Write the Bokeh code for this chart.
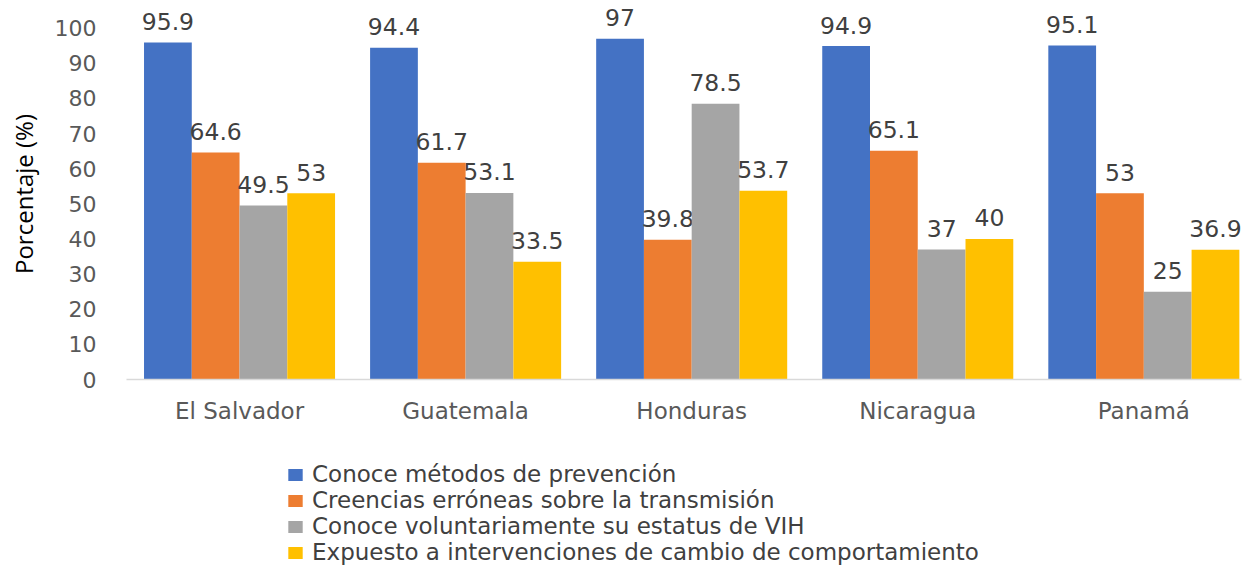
import numpy as np
from bokeh.plotting import figure
from bokeh.layouts import column
from bokeh.models import Range1d, FixedTicker, Legend, LegendItem, ColumnDataSource
from bokeh.core.properties import value
from bokeh.embed import file_html
from bokeh.resources import INLINE

countries = ["El Salvador", "Guatemala", "Honduras", "Nicaragua", "Panamá"]
series_names = [
    "Conoce métodos de prevención",
    "Creencias erróneas sobre la transmisión",
    "Conoce voluntariamente su estatus de VIH",
    "Expuesto a intervenciones de cambio de comportamiento",
]
conoce_metodos = [95.9, 94.4, 97, 94.9, 95.1]
creencias_erroneas = [64.6, 61.7, 39.8, 65.1, 53]
conoce_estatus = [49.5, 53.1, 78.5, 37, 25]
expuesto = [53, 33.5, 53.7, 40, 36.9]
colors = ["#4472C4", "#ED7D31", "#A5A5A5", "#FFC000"]
y_ticks = [0, 10, 20, 30, 40, 50, 60, 70, 80, 90, 100]

series = [conoce_metodos, creencias_erroneas, conoce_estatus, expuesto]

p = figure(
    frame_width=1115, frame_height=371,
    min_border_left=126, min_border_right=8, min_border_top=8, min_border_bottom=66,
    x_range=Range1d(-0.5, 4.432), y_range=Range1d(0, 105.6),
    output_backend="svg", toolbar_location=None,
)
p.outline_line_color = None
p.xgrid.grid_line_color = None
p.ygrid.grid_line_color = None
p.background_fill_color = "white"
p.border_fill_color = "white"

group = 0.845
w = group / 4
for k, (vals, col) in enumerate(zip(series, colors)):
    off = (k - 1.5) * w
    xs = [i + off for i in range(len(countries))]
    src = ColumnDataSource(dict(x=xs, top=vals, lab=[f"{v:g}" for v in vals]))
    p.vbar(x="x", top="top", width=w, bottom=0, source=src,
           fill_color=col, line_color=None)
    p.text(x="x", y="top", text="lab", source=src, text_align="center",
           text_baseline="alphabetic", y_offset=-21,
           text_font=value("DejaVu Sans"), text_font_size="23.5px",
           text_color="#404040")

# x axis
xa = p.xaxis[0]
xa.ticker = FixedTicker(ticks=list(range(len(countries))))
xa.major_label_overrides = {i: c for i, c in enumerate(countries)}
xa.axis_line_color = "#D9D9D9"
xa.axis_line_width = 1.5
xa.major_tick_line_color = None
xa.major_tick_out = 0
xa.major_tick_in = 0
xa.minor_tick_line_color = None
xa.major_label_text_font = "DejaVu Sans"
xa.major_label_text_font_size = "23px"
xa.major_label_text_color = "#595959"
xa.major_label_standoff = 18

# y axis
ya = p.yaxis[0]
ya.ticker = FixedTicker(ticks=y_ticks)
ya.axis_line_color = None
ya.major_tick_line_color = None
ya.major_tick_out = 0
ya.major_tick_in = 0
ya.minor_tick_line_color = None
ya.major_label_text_font = "DejaVu Sans"
ya.major_label_text_font_size = "22px"
ya.major_label_text_color = "#595959"
ya.major_label_standoff = 30
ya.axis_label = "Porcentaje (%)"
ya.axis_label_text_font = "Open Sans"
ya.axis_label_text_font_size = "24px"
ya.axis_label_text_font_style = "normal"
ya.axis_label_text_color = "#000000"
ya.axis_label_standoff = 12

# legend figure below the chart
pl = figure(
    frame_width=1249, frame_height=124, min_border=0,
    x_range=Range1d(0, 1), y_range=Range1d(0, 1),
    x_axis_location=None, y_axis_location=None,
    output_backend="svg", toolbar_location=None,
)
pl.outline_line_color = None
pl.grid.visible = False
pl.background_fill_color = "white"
pl.border_fill_color = "white"

items = []
for col, name in zip(colors, series_names):
    proxy = ColumnDataSource(dict(x=np.array([np.nan]), top=np.array([np.nan])))
    r = pl.vbar(x="x", top="top", width=0.1, source=proxy,
                fill_color=col, line_color=None)
    items.append(LegendItem(label=name, renderers=[r]))

legend = Legend(items=items, location=(286, 4), orientation="vertical",
                glyph_width=18, glyph_height=15, label_height=20,
                spacing=0, label_standoff=8, padding=0, margin=0,
                border_line_color=None, background_fill_alpha=0,
                label_text_font="DejaVu Sans", label_text_font_size="23px",
                label_text_color="#404040")
pl.add_layout(legend, "center")

layout = column(p, pl, spacing=0)
open("out.html", "w").write(file_html(layout, INLINE))
